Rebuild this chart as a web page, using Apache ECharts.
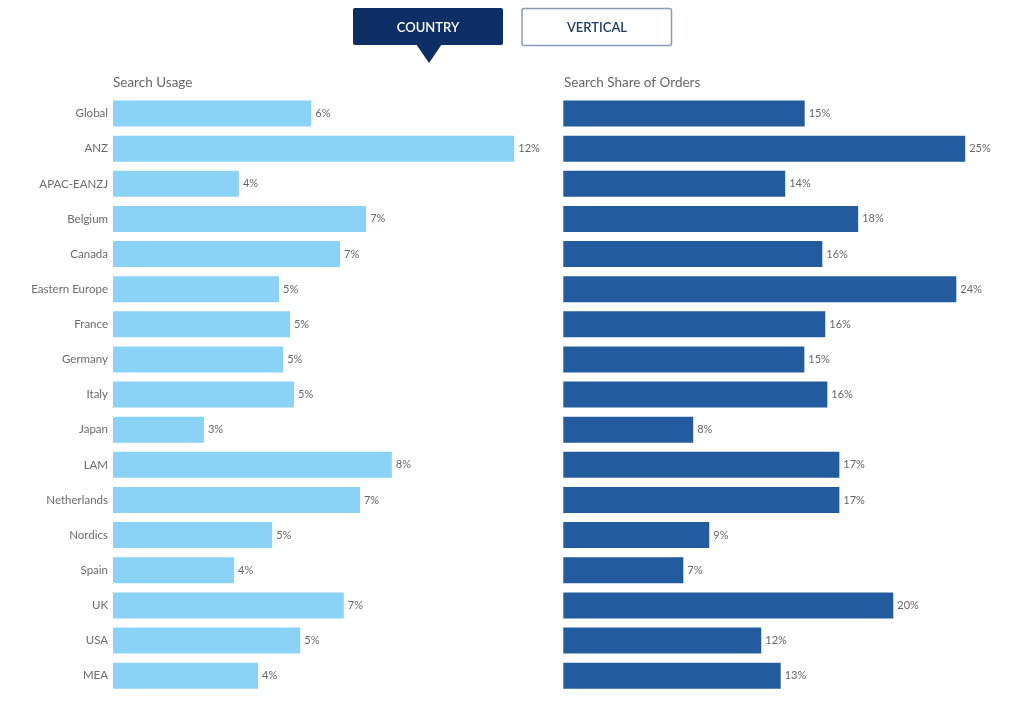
<!DOCTYPE html>
<html>
<head>
<meta charset="utf-8">
<script src="https://cdn.jsdelivr.net/npm/echarts@6/dist/echarts.min.js"></script>
<style>
html,body{margin:0;padding:0;background:#fff;}
#chart{width:1024px;height:702px;}
</style>
</head>
<body>
<div id="chart"></div>
<script>
const categories = ["Global","ANZ","APAC-EANZJ","Belgium","Canada","Eastern Europe","France","Germany","Italy","Japan","LAM","Netherlands","Nordics","Spain","UK","USA","MEA"];
const searchUsage = [5.78,11.70,3.67,7.38,6.62,4.84,5.16,4.96,5.28,2.65,8.13,7.20,4.64,3.53,6.73,5.46,4.23];
const searchShareOfOrders = [14.90,24.81,13.70,18.20,15.99,24.26,16.17,14.88,16.30,8.02,17.04,17.04,9.01,7.41,20.37,12.22,13.42];
const panelTitles = ["Search Usage","Search Share of Orders"];
const buttons = ["COUNTRY","VERTICAL"];

const FONT = "Lato, 'Open Sans', sans-serif";
const chart = echarts.init(document.getElementById('chart'));
const fmt = p => Math.round(p.value) + '%';

chart.setOption({
  animation: false,
  backgroundColor: '#ffffff',
  textStyle: {fontFamily: FONT},
  grid: [
    {left: 113, top: 96, width: 411.6, height: 597.2},
    {left: 563.3, top: 96, width: 421.2, height: 597.2}
  ],
  xAxis: [
    {gridIndex: 0, type: 'value', min: 0, max: 12, show: false},
    {gridIndex: 1, type: 'value', min: 0, max: 26, show: false}
  ],
  yAxis: [
    {gridIndex: 0, type: 'category', data: categories, inverse: true,
     axisLine: {show: false}, axisTick: {show: false}, splitLine: {show: false},
     axisLabel: {color: '#6b6b6b', fontSize: 11.5, margin: 5, fontFamily: FONT}},
    {gridIndex: 1, type: 'category', data: categories, inverse: true, show: false}
  ],
  series: [
    {type: 'bar', xAxisIndex: 0, yAxisIndex: 0, data: searchUsage, barWidth: 26,
     itemStyle: {color: '#8bd2f7'},
     label: {show: true, position: 'right', distance: 4, formatter: fmt, color: '#666', fontSize: 11, fontFamily: FONT}},
    {type: 'bar', xAxisIndex: 1, yAxisIndex: 1, data: searchShareOfOrders, barWidth: 26,
     itemStyle: {color: '#225c9e'},
     label: {show: true, position: 'right', distance: 4, formatter: fmt, color: '#666', fontSize: 11, fontFamily: FONT}}
  ],
  title: [
    {text: panelTitles[0], left: 113, top: 76, textStyle: {color: '#666', fontSize: 13.5, fontWeight: 'normal', fontFamily: FONT}, padding: 0},
    {text: panelTitles[1], left: 564, top: 76, textStyle: {color: '#666', fontSize: 13.5, fontWeight: 'normal', fontFamily: FONT}, padding: 0}
  ],
  graphic: [
    {type: 'rect', shape: {x: 353, y: 8, width: 150, height: 37, r: 2}, style: {fill: '#0e2f66'}},
    {type: 'polygon', shape: {points: [[416, 44], [442, 44], [429, 63]]}, style: {fill: '#0e2f66'}},
    {type: 'text', style: {text: buttons[0], x: 428, y: 27.5, align: 'center', verticalAlign: 'middle', fill: '#ffffff', font: "600 13px " + FONT}},
    {type: 'rect', shape: {x: 522, y: 8.5, width: 149.5, height: 37, r: 2}, style: {fill: '#ffffff', stroke: '#8c9bb3', lineWidth: 1.5}},
    {type: 'text', style: {text: buttons[1], x: 597, y: 27.5, align: 'center', verticalAlign: 'middle', fill: '#1d3a68', font: "600 13px " + FONT}}
  ]
});
</script>
</body>
</html>
